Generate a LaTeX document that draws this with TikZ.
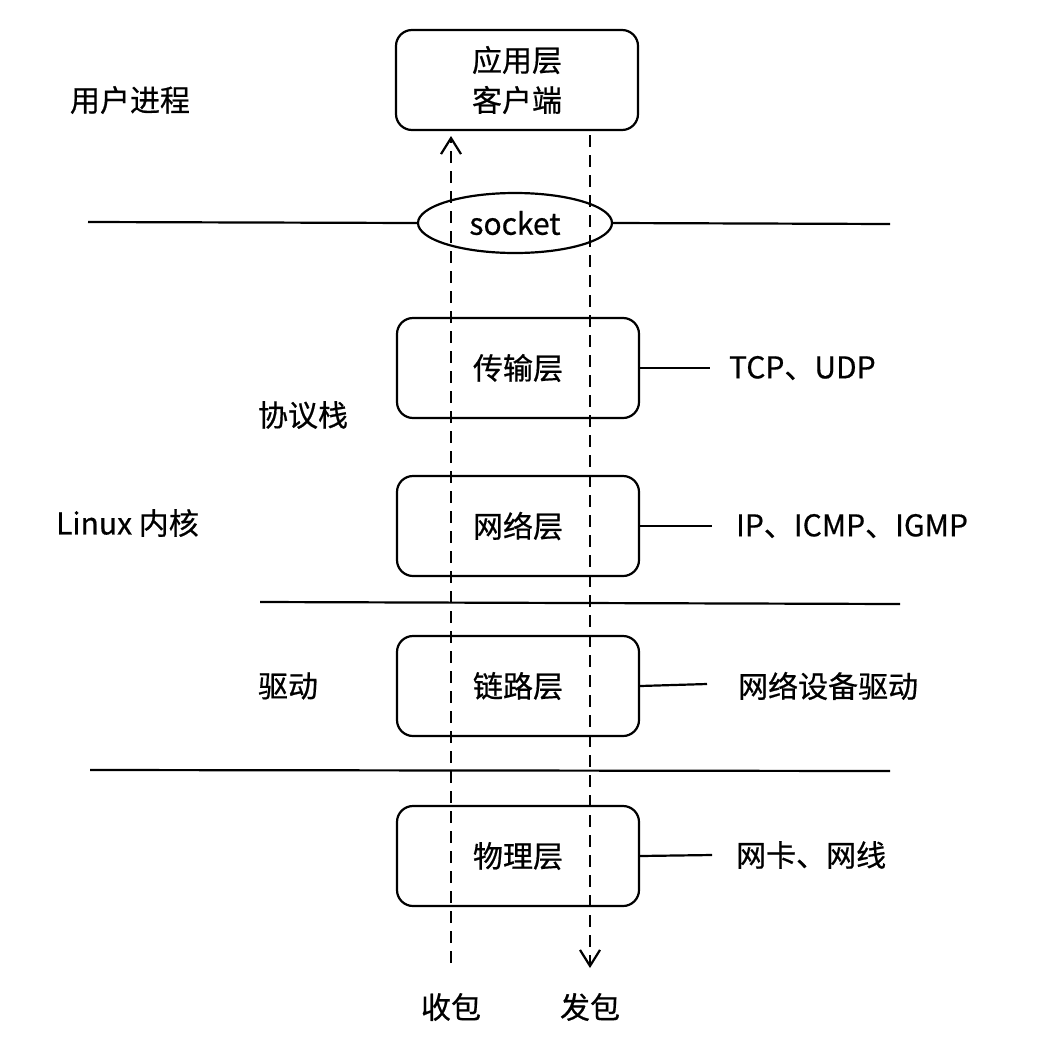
\documentclass[tikz,border=0pt]{standalone}
\usepackage{fontspec}
\setmainfont{Noto Sans CJK SC}[FakeBold=0.6]
\usetikzlibrary{arrows.meta,shapes.geometric}
\tikzset{
  layer/.style={draw, rounded corners=16pt, minimum width=242pt, minimum height=100pt, align=center, font=\fontsize{30}{40}\selectfont},
  lbl/.style={font=\fontsize{30}{36}\selectfont, inner sep=0pt},
  flow/.style={dash pattern=on 12pt off 8pt, -{Straight Barb[length=16pt,width=20pt,line width=2.2pt]}},
}
\begin{document}
\begin{tikzpicture}[x=1pt,y=-1pt,line width=2.2pt]
\useasboundingbox (0,0) rectangle (1056,1052);

% layer boxes
\node[layer] (app) at (517,80) {应用层\\客户端};
\node[layer] (trans) at (518,368) {传输层};
\node[layer] (net) at (518,526) {网络层};
\node[layer] (link) at (518,686) {链路层};
\node[layer] (phy) at (518,856) {物理层};

% socket ellipse and boundary lines
\node[draw, ellipse, minimum width=194pt, minimum height=60pt, lbl] (sock) at (515,223) {socket};
\coordinate (l1a) at (88,222);
\coordinate (l1b) at (890,224);
\draw (l1a) -- (sock.west);
\draw (sock.east) -- (l1b);
\coordinate (l2a) at (260,602);
\coordinate (l2b) at (900,604);
\draw (l2a) -- (l2b);
\coordinate (l3a) at (90,770);
\coordinate (l3b) at (890,771);
\draw (l3a) -- (l3b);

% left labels
\node[lbl] (user) at (130,100) {用户进程};
\node[lbl] (stack) at (303,415) {协议栈};
\node[lbl, anchor=west] (kern) at (55,523) {Linux 内核};
\node[lbl] (drv) at (288,686) {驱动};

% right labels
\node[lbl, anchor=west] (tcp) at (728,368) {TCP、UDP};
\node[lbl, anchor=west] (ip) at (735,526) {IP、ICMP、IGMP};
\node[lbl, anchor=west] (nic) at (737,686) {网络设备驱动};
\node[lbl, anchor=west] (wire) at (735,855) {网卡、网线};
\draw (trans.east) -- ([xshift=-18pt]tcp.west);
\draw (net.east) -- ([xshift=-23pt]ip.west);
\draw (link.east) -- ([xshift=-30pt,yshift=2pt]nic.west);
\draw (phy.east) -- ([xshift=-23pt]wire.west);

% packet flows
\node[lbl] (rcv) at (451,1007) {收包};
\node[lbl] (snd) at (590,1007) {发包};
\coordinate (rcvS) at (451,963);
\coordinate (rcvE) at (451,136);
\coordinate (sndS) at (590,135);
\coordinate (sndE) at (590,968);
\draw[flow] (rcvS) -- (rcvE);
\draw[flow] (sndS) -- (sndE);
\end{tikzpicture}
\end{document}
